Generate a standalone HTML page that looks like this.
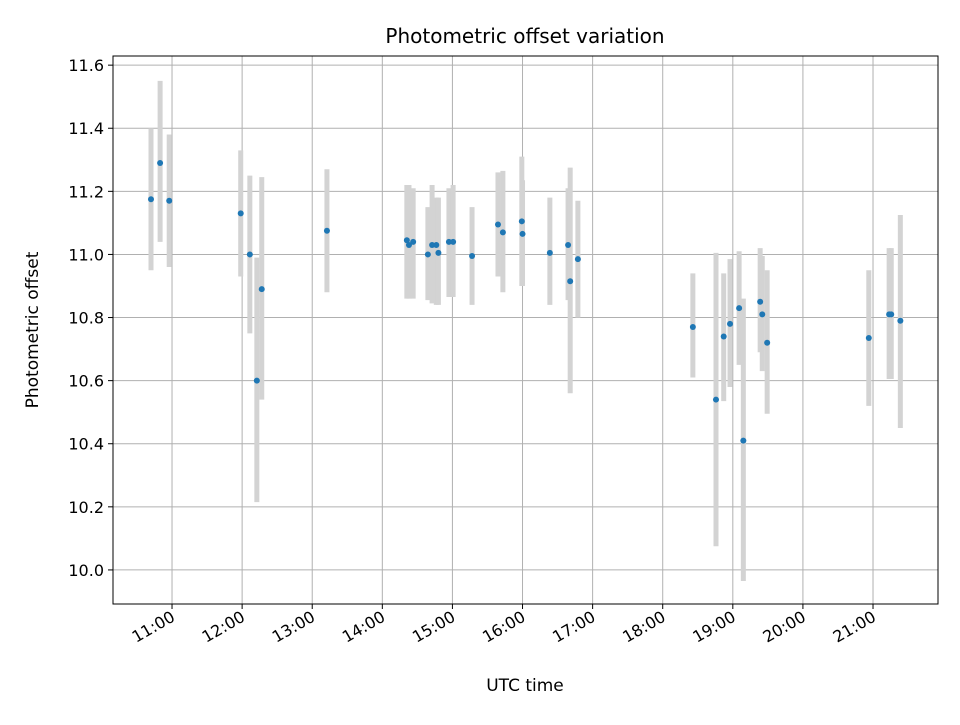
<!DOCTYPE html>
<html><head><meta charset="utf-8"><style>
body{margin:0;background:#fff;font-family:"Liberation Sans","DejaVu Sans",sans-serif}
</style></head><body>
<svg id="chart" width="960" height="720" xmlns="http://www.w3.org/2000/svg" font-family="DejaVu Sans, Liberation Sans, sans-serif">
<rect width="960" height="720" fill="#fff"/>
<text x="525" y="43" text-anchor="middle" font-size="20">Photometric offset variation</text>
<text x="525" y="691" text-anchor="middle" font-size="17">UTC time</text>
<text transform="translate(38,330) rotate(-90)" text-anchor="middle" font-size="17">Photometric offset</text>
<g id="grid"></g>
<g id="bars"></g>
<g id="pts"></g>
<g id="ticks"></g>
<rect x="113" y="56" width="825" height="548" fill="none" stroke="#000" stroke-width="1"/>
</svg>
<script>
const hours=[10.70,10.83,10.96,11.98,12.11,12.21,12.28,13.21,14.35,14.38,14.44,14.65,14.71,14.77,14.80,14.95,15.01,15.28,15.65,15.72,15.99,16.00,16.39,16.65,16.68,16.79,18.43,18.76,18.87,18.96,19.09,19.15,19.39,19.42,19.49,20.94,21.23,21.26,21.39];
const offsets=[11.175,11.29,11.17,11.13,11.0,10.60,10.89,11.075,11.045,11.03,11.04,11.0,11.03,11.03,11.005,11.04,11.04,10.995,11.095,11.07,11.105,11.065,11.005,11.03,10.915,10.985,10.77,10.54,10.74,10.78,10.83,10.41,10.85,10.81,10.72,10.735,10.81,10.81,10.79];
const upper=[11.40,11.55,11.38,11.33,11.25,10.99,11.245,11.27,11.22,11.22,11.21,11.15,11.22,11.18,11.18,11.21,11.22,11.15,11.26,11.265,11.31,11.235,11.18,11.21,11.275,11.17,10.94,11.005,10.94,10.985,11.01,10.86,11.02,10.995,10.95,10.95,11.02,11.02,11.125];
const lower=[10.95,11.04,10.96,10.93,10.75,10.215,10.54,10.88,10.86,10.86,10.86,10.855,10.845,10.84,10.84,10.865,10.865,10.84,10.93,10.88,10.90,10.90,10.84,10.855,10.56,10.80,10.61,10.075,10.535,10.58,10.65,9.965,10.69,10.63,10.495,10.52,10.605,10.605,10.45];
const xTicks=[11,12,13,14,15,16,17,18,19,20,21];
const xTickLabels=["11:00","12:00","13:00","14:00","15:00","16:00","17:00","18:00","19:00","20:00","21:00"];
const yTicks=[10.0,10.2,10.4,10.6,10.8,11.0,11.2,11.4,11.6];
const yTickLabels=["10.0","10.2","10.4","10.6","10.8","11.0","11.2","11.4","11.6"];
const L=113,R=938,T=56,B=604,x0=10.158,x1=21.927,y0=9.892,y1=11.629;
const X=h=>L+(h-x0)/(x1-x0)*(R-L);
const Y=v=>B-(v-y0)/(y1-y0)*(B-T);
const NS="http://www.w3.org/2000/svg";
function mk(tag,attrs,parent){const e=document.createElementNS(NS,tag);for(const k in attrs)e.setAttribute(k,attrs[k]);parent.appendChild(e);return e;}
const grid=document.getElementById('grid'),ticks=document.getElementById('ticks'),bars=document.getElementById('bars'),pts=document.getElementById('pts');
xTicks.forEach((t,i)=>{const x=X(t);
 const g=mk('line',{x1:x,x2:x,y1:T,y2:B,stroke:'#b0b0b0','stroke-width':1},grid);
 
 const tk=mk('line',{x1:x,x2:x,y1:B,y2:B+5,stroke:'#000'},ticks);
 
 const tx=mk('text',{x:x+4,y:B+16,'text-anchor':'end','font-size':'16',transform:`rotate(-30 ${x+4} ${B+16})`},ticks);
 tx.textContent=xTickLabels[i];
 
});
yTicks.forEach((t,i)=>{const y=Y(t);
 const g=mk('line',{x1:L,x2:R,y1:y,y2:y,stroke:'#b0b0b0','stroke-width':1},grid);
 
 const tk=mk('line',{x1:L-5,x2:L,y1:y,y2:y,stroke:'#000'},ticks);
 
 const tx=mk('text',{x:L-9,y:y+6,'text-anchor':'end','font-size':'16'},ticks);
 tx.textContent=yTickLabels[i];
 
});
hours.forEach((h,i)=>{const x=X(h);
 const b=mk('line',{x1:x,x2:x,y1:Y(upper[i]),y2:Y(lower[i]),stroke:'#d3d3d3','stroke-width':5},bars);
 
});
hours.forEach((h,i)=>{
 const c=mk('circle',{cx:X(h),cy:Y(offsets[i]),r:3,fill:'#1f77b4'},pts);
 
});
</script>
</body></html>
